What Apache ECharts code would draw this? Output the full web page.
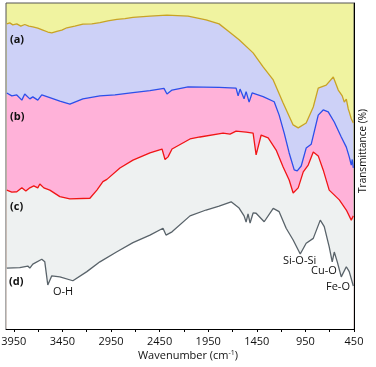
<!DOCTYPE html>
<html>
<head>
    <meta charset="utf-8">
    <script src="https://cdn.jsdelivr.net/npm/echarts@6/dist/echarts.min.js"></script>
    <style>
        html, body { margin: 0; padding: 0; background: #fff; }
        #main { width: 376px; height: 367px; }
    </style>
</head>
<body>
<div id="main"></div>
<script type="text/javascript">
    // spectra : [wavenumber, transmittance (offset, a.u.)]
    var specA = [
        [4022,93.6],[3991,93.9],[3960,93.3],[3919,93.6],[3878,92.9],[3837,93.4],[3795,92.9],[3754,92.7],
        [3703,92.3],[3651,91.7],[3600,91.1],[3559,90.8],[3507,91.3],[3456,91.7],[3404,92.4],[3322,92.9],
        [3239,93.5],[3147,93.6],[3064,94.0],[2982,94.5],[2889,95.0],[2806,95.2],[2724,95.6],[2549,96.0],
        [2374,96.3],[2157,96.0],[1972,94.8],[1838,93.6],[1735,91.2],[1632,88.7],[1488,84.7],[1385,80.4],
        [1281,76.4],[1179,69.3],[1076,62.6],[1024,61.7],[942,63.2],[869,68.1],[818,73.9],[736,74.8],
        [663,77.3],[612,73.3],[571,71.5],[550,69.6],[529,70.5],[509,67.5],[499,66.6],[478,64.5],[457,63.2]
    ];
    var specB = [
        [4022,72.4],[3970,71.5],[3919,71.8],[3867,70.2],[3837,72.1],[3785,70.6],[3754,71.2],[3703,70.2],
        [3662,71.8],[3579,71.0],[3476,69.9],[3373,69.0],[3239,70.6],[3064,71.5],[2909,71.8],[2724,72.5],
        [2549,73.1],[2405,73.8],[2374,72.1],[2322,73.3],[2157,74.3],[1838,74.1],[1663,73.9],[1642,71.5],
        [1622,73.6],[1581,70.6],[1560,72.8],[1529,69.6],[1498,72.4],[1385,71.3],[1271,69.7],[1220,65.6],
        [1168,60.1],[1117,54.0],[1065,48.8],[1034,48.5],[993,50.0],[942,55.5],[890,56.7],[818,65.6],
        [767,67.2],[715,66.6],[653,63.5],[581,58.9],[529,55.8],[499,52.8],[478,50.3],[468,52.0],[457,49.4]
    ];
    var specC = [
        [4022,42.6],[3970,42.0],[3919,42.1],[3867,43.3],[3826,42.3],[3785,43.3],[3744,43.9],[3703,43.3],
        [3682,44.5],[3641,43.3],[3579,42.6],[3476,40.6],[3373,39.9],[3167,40.1],[3095,42.6],[3033,45.2],
        [2992,45.9],[2858,49.4],[2724,51.8],[2549,54.0],[2425,55.2],[2394,52.0],[2363,52.8],[2322,55.2],
        [2137,58.3],[2034,58.9],[1797,60.1],[1725,59.8],[1663,60.7],[1560,60.4],[1488,60.1],[1457,53.4],
        [1405,59.5],[1333,58.6],[1251,54.9],[1179,49.7],[1117,45.7],[1076,41.7],[1024,43.3],[972,48.2],
        [921,50.3],[869,54.3],[818,53.1],[767,48.8],[705,42.6],[601,39.6],[529,36.5],[478,33.4],[457,34.7]
    ];
    var specD = [
        [4022,18.7],[3888,18.8],[3806,19.3],[3785,18.7],[3754,19.9],[3662,21.4],[3631,20.6],[3600,13.5],
        [3559,16.3],[3476,16.0],[3342,14.8],[3198,17.6],[3064,20.6],[2889,23.7],[2724,26.5],[2549,28.8],
        [2415,30.9],[2384,28.8],[2322,29.8],[2137,34.7],[1972,36.5],[1838,37.7],[1714,39.0],[1632,37.1],
        [1581,34.7],[1560,32.8],[1540,35.3],[1519,32.5],[1488,35.6],[1457,35.5],[1374,32.9],[1281,37.0],
        [1220,36.0],[1148,30.9],[1076,27.3],[1003,23.0],[942,26.3],[869,27.8],[797,33.4],[756,31.4],
        [705,25.2],[674,20.6],[653,23.6],[622,20.6],[581,16.0],[529,19.1],[499,17.6],[457,13.2]
    ];
    var tickLabels = [3950, 3450, 2950, 2450, 1950, 1450, 950, 450];
    var seriesNames = ['(a)', '(b)', '(c)', '(d)'];

    var FONT = 'Open Sans';
    var chart = echarts.init(document.getElementById('main'), null, {renderer: 'canvas'});

    var makeSeries = function (name, data, lineColor, fillColor) {
        return {
            type: 'line',
            name: name,
            data: data,
            showSymbol: false,
            symbol: 'none',
            lineStyle: {color: lineColor, width: 1.3},
            areaStyle: {color: fillColor, opacity: 1, origin: 'start'},
            silent: true
        };
    };

    var option = {
        animation: false,
        grid: {
            left: 6, right: 22, top: 3, bottom: 38,
            containLabel: false,
            outerBoundsMode: 'none',
            show: true,
            backgroundColor: '#f0f3a0',
            borderColor: '#555',
            borderWidth: 1
        },
        xAxis: {
            type: 'value',
            inverse: true,
            min: 450,
            max: 4030,
            interval: 250,
            axisLine: {show: true, onZero: false, lineStyle: {color: '#000', width: 1}},
            axisTick: {show: true, inside: false, length: 3, lineStyle: {color: '#000'}},
            splitLine: {show: false},
            axisLabel: {
                margin: 7,
                fontFamily: FONT,
                fontSize: 11,
                color: '#111',
                showMinLabel: true,
                showMaxLabel: false,
                formatter: function (v) {
                    return tickLabels.indexOf(v) >= 0 ? String(v) : '';
                }
            }
        },
        yAxis: {
            type: 'value',
            position: 'right',
            min: 0,
            max: 100,
            axisLine: {show: true, lineStyle: {color: '#000', width: 1}},
            axisTick: {show: false},
            axisLabel: {show: false},
            splitLine: {show: false}
        },
        series: [
            makeSeries(seriesNames[0], specA, '#c9a325', '#cdd1f7'),
            makeSeries(seriesNames[1], specB, '#2c4fea', '#ffb2d9'),
            makeSeries(seriesNames[2], specC, '#f01515', '#eef1f1'),
            makeSeries(seriesNames[3], specD, '#59636a', '#ffffff')
        ],
        graphic: [
            {type: 'text', left: 10, top: 34, z: 100, style: {text: seriesNames[0], font: 'bold 11px "Open Sans"', fill: '#111'}},
            {type: 'text', left: 10, top: 111, z: 100, style: {text: seriesNames[1], font: 'bold 11px "Open Sans"', fill: '#111'}},
            {type: 'text', left: 10, top: 201, z: 100, style: {text: seriesNames[2], font: 'bold 11px "Open Sans"', fill: '#111'}},
            {type: 'text', left: 9, top: 276, z: 100, style: {text: seriesNames[3], font: 'bold 11px "Open Sans"', fill: '#111'}},
            {type: 'text', left: 53, top: 286, z: 100, style: {text: 'O-H', font: '11px "Open Sans"', fill: '#111'}},
            {type: 'text', left: 283, top: 255, z: 100, style: {text: 'Si-O-Si', font: '11px "Open Sans"', fill: '#111'}},
            {type: 'text', left: 311, top: 265, z: 100, style: {text: 'Cu-O', font: '11px "Open Sans"', fill: '#111'}},
            {type: 'text', left: 326, top: 281, z: 100, style: {text: 'Fe-O', font: '11px "Open Sans"', fill: '#111'}},
            // axis titles
            {
                type: 'text', x: 188, y: 356, z: 100,
                style: {
                    text: 'Wavenumber (cm{sup|-1})',
                    font: '11px "Open Sans"',
                    fill: '#111',
                    align: 'center',
                    verticalAlign: 'middle',
                    rich: {
                        sup: {fontSize: 7, fontFamily: FONT, verticalAlign: 'top', lineHeight: 14, fill: '#111'}
                    }
                }
            },
            {
                type: 'text', x: 363, y: 151, rotation: Math.PI / 2, z: 100,
                style: {
                    text: 'Transmittance (%)',
                    font: '10px "Open Sans"',
                    fill: '#111',
                    align: 'center',
                    verticalAlign: 'middle'
                }
            }
        ]
    };
    chart.setOption(option);
</script>
</body>
</html>
